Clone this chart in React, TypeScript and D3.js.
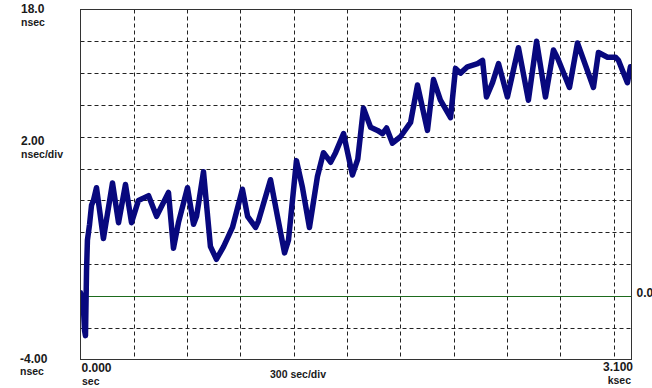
import React from "react";
import * as d3 from "d3";

// Time (sec) and time-error (nsec)
const times: number[] = [
  0, 6, 11, 17, 23, 28, 34, 39, 51, 62, 73, 90, 129, 180, 214, 253, 287, 326, 383, 428,
  495, 523, 551, 602, 636, 653, 692, 731, 765, 805, 855, 911, 940, 985, 1001, 1069, 1108,
  1148, 1170, 1215, 1249, 1288, 1333, 1367, 1407, 1435, 1480, 1530, 1560, 1592, 1632,
  1671, 1699, 1722, 1755, 1800, 1857, 1896, 1952, 1986, 2025, 2082, 2110, 2138, 2177,
  2234, 2262, 2284, 2318, 2352, 2402, 2464, 2520, 2566, 2616, 2661, 2684, 2751, 2796,
  2886, 2914, 2965, 3010, 3027, 3077, 3094,
];
const values: number[] = [
  0.2, -0.3, -0.6, -0.9, -2.2, -2.5, 1.6, 3.5, 4.5, 5.7, 6.0, 6.8, 3.6, 7.1, 4.6, 7.0, 4.6, 6.0, 6.3, 5.0,
  6.5, 3.0, 4.6, 6.8, 4.5, 5.0, 7.8, 3.1, 2.3, 3.1, 4.3, 6.7, 5.0, 4.3, 4.7, 7.3, 5.0,
  2.7, 3.5, 8.5, 6.8, 4.3, 7.5, 9.0, 8.4, 9.0, 10.2, 7.6, 8.6, 11.8, 10.6,
  10.4, 10.2, 10.55, 9.6, 10.0, 10.9, 13.25, 10.4, 13.6, 12.3, 11.2, 14.3, 14.0, 14.4,
  14.6, 14.8, 12.5, 13.4, 14.6, 12.5, 15.6, 12.3, 16.0, 12.5, 15.45, 14.95, 13.1, 15.9,
  13.1, 15.3, 15.0, 15.0, 14.8, 13.4, 14.4,
];

const xGridTicks: number[] = [300, 600, 900, 1200, 1500, 1800, 2100, 2400, 2700, 3000];
const yGridTicks: number[] = [-2, 2, 4, 6, 8, 10, 12, 14, 16];
const xDomain: [number, number] = [0, 3100];
const yDomain: [number, number] = [-4, 18];

export default function App() {
  const W = 652;
  const H = 388;
  const left = 80.5;
  const right = 631.5;
  const top = 9.5;
  const bottom = 359.5;

  const x = d3.scaleLinear().domain(xDomain).range([left, right]);
  const y = d3.scaleLinear().domain(yDomain).range([bottom, top]);

  const pts = times.map((t, i) => [t, values[i]] as [number, number]);
  const line = d3
    .line<[number, number]>()
    .x((d) => x(d[0]))
    .y((d) => y(d[1]))
    .curve(d3.curveLinear);
  const path = line(pts) || "";

  const font = "'Liberation Sans', Arial, sans-serif";
  const txt = { fontFamily: font, fontWeight: 700, fill: "#1a1a1a" } as const;

  return (
    <svg
      width={W}
      height={H}
      style={{ position: "absolute", left: 0, top: 0, background: "#fff" }}
    >
      <defs>
        <clipPath id="plotclip">
          <rect x={left} y={top} width={right - left} height={bottom - top} />
        </clipPath>
      </defs>
      <rect x={0} y={0} width={W} height={H} fill="#fff" />

      {/* grid */}
      {xGridTicks.map((t) => (
        <line
          key={"vx" + t}
          x1={Math.round(x(t)) + 0.5}
          x2={Math.round(x(t)) + 0.5}
          y1={top}
          y2={bottom}
          stroke="#222"
          strokeWidth={1}
          strokeDasharray="4,3"
        />
      ))}
      {yGridTicks.map((v) => (
        <line
          key={"hy" + v}
          x1={left}
          x2={right}
          y1={Math.round(y(v)) + 0.5}
          y2={Math.round(y(v)) + 0.5}
          stroke="#222"
          strokeWidth={1}
          strokeDasharray="4,3"
        />
      ))}
      {/* zero reference */}
      <line
        x1={left}
        x2={right}
        y1={Math.round(y(0)) + 0.5}
        y2={Math.round(y(0)) + 0.5}
        stroke="#1d6b1d"
        strokeWidth={1}
      />

      {/* trace */}
      <g clipPath="url(#plotclip)">
        <path
          d={path}
          fill="none"
          stroke="#08087e"
          strokeWidth={5.5}
          strokeLinejoin="round"
          strokeLinecap="round"
        />
      </g>

      {/* frame */}
      <rect
        x={left}
        y={top}
        width={right - left}
        height={bottom - top}
        fill="none"
        stroke="#333"
        strokeWidth={1}
      />

      {/* labels */}
      <text x={21} y={13} fontSize={12} {...txt}>18.0</text>
      <text x={21} y={26} fontSize={10.5} {...txt}>nsec</text>
      <text x={21} y={145} fontSize={12} {...txt}>2.00</text>
      <text x={21} y={158} fontSize={10.5} {...txt}>nsec/div</text>
      <text x={20} y={362.5} fontSize={12} {...txt}>-4.00</text>
      <text x={20} y={375} fontSize={10.5} {...txt}>nsec</text>
      <text x={81.5} y={371.5} fontSize={12} {...txt}>0.000</text>
      <text x={82} y={384.5} fontSize={10.5} {...txt}>sec</text>
      <text x={270} y={377.5} fontSize={10.5} {...txt}>300 sec/div</text>
      <text x={633} y={370.7} fontSize={12} textAnchor="end" {...txt}>3.100</text>
      <text x={631} y={383.5} fontSize={10.5} textAnchor="end" {...txt}>ksec</text>
      <text x={636.5} y={296.5} fontSize={12} {...txt}>0.0</text>
    </svg>
  );
}
